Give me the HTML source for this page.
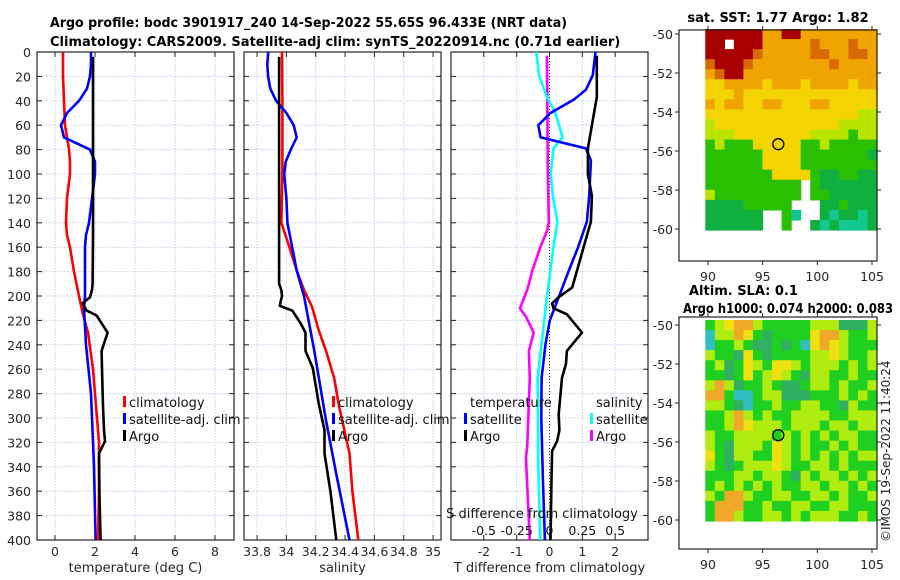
<!DOCTYPE html>
<html><head><meta charset="utf-8"><style>
html,body{margin:0;padding:0;background:#fff;}
svg{display:block;font-family:"DejaVu Sans","Liberation Sans",sans-serif;}
</style></head><body>
<svg id="fig" width="900" height="580" viewBox="0 0 900 580" xmlns="http://www.w3.org/2000/svg">
<text x="50" y="27" font-size="13" font-weight="bold" fill="#000" textLength="517" lengthAdjust="spacingAndGlyphs">Argo profile: bodc 3901917_240 14-Sep-2022 55.65S 96.433E (NRT data)</text>
<text x="50" y="46" font-size="13" font-weight="bold" fill="#000">Climatology: CARS2009. Satellite-adj clim: synTS_20220914.nc (0.71d earlier)</text>
<text x="778" y="22" font-size="13" font-weight="bold" text-anchor="middle">sat. SST: 1.77 Argo: 1.82</text>
<text x="689" y="295" font-size="13" font-weight="bold">Altim. SLA: 0.1</text>
<text x="683" y="313" font-size="13" font-weight="bold" textLength="210" lengthAdjust="spacingAndGlyphs">Argo h1000: 0.074 h2000: 0.083</text>
<text transform="translate(890,542) rotate(-90)" font-size="12" fill="#222">©IMOS 19-Sep-2022 11:40:24</text>
<g id="layer"></g>
</svg>
<script>
// ---------- depth grid and profile data ----------
const depthTicks = [0,20,40,60,80,100,120,140,160,180,200,220,240,260,280,300,320,340,360,380,400];
// Temperature panel
const tClimDepth = [0,20,40,60,80,90,100,120,140,150,160,180,200,215,230,260,290,320,360,400];
const tClimVal   = [0.4,0.4,0.45,0.5,0.7,0.75,0.75,0.6,0.55,0.6,0.75,0.95,1.2,1.4,1.65,1.9,2.05,2.2,2.2,2.15];
const tSatDepth = [0,10,20,30,40,50,60,70,80,90,100,120,140,150,160,200,210,240,280,340,400];
const tSatVal   = [1.8,1.8,1.75,1.6,1.2,0.6,0.3,0.45,1.75,2.0,2.0,1.85,1.7,1.55,1.5,1.5,1.45,1.55,1.8,1.95,2.03];
const tArgoDepth = [4,50,100,150,190,195,201,206,212,216,230,245,260,290,310,319,329,360,400];
const tArgoVal   = [1.9,1.9,1.9,1.9,1.88,1.85,1.75,1.38,1.58,2.08,2.63,2.33,2.35,2.4,2.45,2.5,2.2,2.22,2.28];
const tTicks = [0,2,4,6,8];
// Salinity panel
const sClimDepth = [0,40,100,140,154,179,195,209,228,245,267,291,329,360,400];
const sClimVal   = [33.97,33.973,33.973,33.965,34.005,34.07,34.12,34.175,34.22,34.27,34.325,34.36,34.43,34.45,34.49];
const sSatDepth = [0,10,20,30,40,50,60,70,80,90,100,120,140,179,200,245,302,346,400];
const sSatVal   = [33.877,33.87,33.875,33.89,33.93,34.0,34.05,34.07,34.03,33.995,33.985,34.0,34.007,34.07,34.12,34.19,34.27,34.34,34.43];
const sArgoDepth = [4,100,190,195,200,205,208,212,223,230,245,259,288,310,329,360,400];
const sArgoVal   = [33.95,33.95,33.95,33.965,33.97,33.96,33.955,34.04,34.1,34.13,34.13,34.18,34.22,34.26,34.26,34.3,34.34];
const sTicks = [33.8,34,34.2,34.4,34.6,34.8,35];
const sTickLabels = ['33.8','34','34.2','34.4','34.6','34.8','35'];
// Difference panel
const dTSatDepth = [0,19,31,39,50,60,70,79,89,118,139,160,179,201,220,239,267,300,350,400];
const dTSatVal   = [1.4,1.32,1.11,0.74,0.03,-0.34,-0.27,1.11,1.26,1.21,1.14,0.87,0.59,0.28,0.01,-0.12,-0.24,-0.25,-0.2,-0.14];
const dTArgoDepth = [3,37,60,79,100,118,139,160,179,193,201,206,210,215,230,245,256,267,297,310,319,327,350,400];
const dTArgoVal   = [1.44,1.44,1.29,1.17,1.17,1.29,1.26,1.04,0.84,0.69,0.28,0.08,0.12,0.53,0.99,0.53,0.5,0.38,0.28,0.3,0.23,0.08,0.06,0.03];
const dSSatDepth = [0,19,37,50,70,79,100,118,139,160,201,267,338,400];
const dSSatVal   = [-0.10,-0.08,-0.02,0.045,0.10,0.03,0.01,0.025,0.06,0.03,-0.02,-0.09,-0.085,-0.07];
const dSArgoDepth = [3,37,100,139,146,160,179,195,210,217,230,245,267,324,332,400];
const dSArgoVal   = [-0.02,-0.017,-0.013,-0.005,-0.017,-0.07,-0.13,-0.17,-0.225,-0.18,-0.12,-0.157,-0.15,-0.17,-0.18,-0.15];
const dTTicks = [-2,-1,0,1,2];
const dSTicks = [-0.5,-0.25,0,0.25,0.5];
const dSTickLabels = ['-0.5','-0.25','0','0.25','0.5'];
// Maps
const lonTicks = [90,95,100,105];
const latTicks = [-50,-52,-54,-56,-58,-60];
const argoLon = 96.433, argoLat = -55.65;
const sstGrid = [
"RRRRRROORROOOOOOOO",
"RRWRRROOOOOrOOOrOO",
"RRRRRrOOOOOrrOOrrO",
"rRRRrOOOOOOOOrOOOO",
"OrRROOOOOOOOOOOOOO",
"YYOOOOYOOOYOOOOYOO",
"YYYOYYYYYYYYYYYYYY",
"OYOOYYOOYYYOOYYYYY",
"YYYYYYYYYYYYYYYYLL",
"LYYYYYYYYYYYYYLLLL",
"LLLYYYYYYYYLLLLGLL",
"GLGGGYYYYYGGLGGGGG",
"GGGGGGYYYYGGGGGGGD",
"GGGGGGYYYYGGGGGGGG",
"GGGGGGGYYYYGDDGGDD",
"GGGGGGGGGGWGDDDDDD",
"LGGGGGGGGGWGGDDDDD",
"DDDDGGGGGWWWDDGDDD",
"DDDDDDWWGTWWDTDDTD",
"DDDDDDWWGWWDTDTTTD"];
const slaGrid = [
"glYoolgggggllldddl",
"clloYgdggggYoolggl",
"cgglgddgdgcYoYlggg",
"lggdYgdggggllYlggl",
"gldgYlgYYlglllglgl",
"ggdgYglYlgdllgglgg",
"loldgglgddgllglggl",
"oogccglldddggglglg",
"llgdcgglggllggdlgg",
"gglolglggllllgglll",
"ggloYlllglllgllgll",
"lggllllglglglgllgg",
"lgdlllgYlglgglglgg",
"YgdllggYlglglglgll",
"lgdglllYlggllglggg",
"gggllgllgdlgllglgl",
"glglglglggllgllglg",
"lgoolggllggllglggl",
"gooogglggllggllggg",
"goolggllglglllgglg"];
const sstColors = {R:'#a80000',r:'#d86a00',O:'#f0a400',Y:'#f4d400',L:'#b8e400',G:'#28c000',D:'#10b040',T:'#10c890',W:'#ffffff'};
const slaColors = {g:'#20d020',d:'#30b060',l:'#b0ec10',Y:'#f0e010',o:'#f0a828',c:'#30c0c0'};

const NS='http://www.w3.org/2000/svg';
const layer=document.getElementById('layer');
function mk(tag,attrs,parent){const e=document.createElementNS(NS,tag);for(const k in attrs)e.setAttribute(k,attrs[k]);(parent||layer).appendChild(e);return e;}
const Y0=52,Y1=540;
function yD(d){return Y0+(d/400)*(Y1-Y0);}
function lin(d0,d1,r0,r1){return v=>r0+(v-d0)/(d1-d0)*(r1-r0);}

const grey='#262626';
function panel(name,x0,x1,xs,ticks,labels,xlabel){
  const g=mk('g',{});
  
  
  depthTicks.forEach(d=>{const y=yD(d);const l=mk('line',{x1:x0,x2:x1,y1:y,y2:y,stroke:'#c8cce8','stroke-width':1,'stroke-dasharray':'1.5,1.5'},g);
    });
  ticks.forEach(v=>{const x=xs(v);const l=mk('line',{x1:x,x2:x,y1:Y0,y2:Y1,stroke:'#c8cce8','stroke-width':1,'stroke-dasharray':'1.5,1.5'},g);
    });
  depthTicks.forEach(d=>{const y=yD(d);
    mk('line',{x1:x0,x2:x0+5,y1:y,y2:y,stroke:'#222'},g);
    mk('line',{x1:x1-5,x2:x1,y1:y,y2:y,stroke:'#222'},g);});
  ticks.forEach((v,i)=>{const x=xs(v);
    mk('line',{x1:x,x2:x,y1:Y1,y2:Y1-5,stroke:'#222'},g);
    mk('line',{x1:x,x2:x,y1:Y0,y2:Y0+5,stroke:'#222'},g);
    const t=mk('text',{x:x,y:556,'font-size':12.5,'text-anchor':'middle',fill:grey},g);t.textContent=labels[i];
    });
  const r=mk('rect',{x:x0,y:Y0,width:x1-x0,height:Y1-Y0,fill:'none',stroke:'#222','stroke-width':1.2},g);
  
  if(xlabel){const t=mk('text',{x:(x0+x1)/2,y:572,'font-size':13,'text-anchor':'middle',fill:grey},g);t.textContent=xlabel;
    }
  return g;
}
function series(g,name,xs,depths,vals,color,w){
  const pts=depths.map((d,i)=>xs(vals[i]).toFixed(1)+','+yD(d).toFixed(1)).join(' ');
  const p=mk('polyline',{points:pts,fill:'none',stroke:color,'stroke-width':w||2.6,'stroke-linejoin':'round'},g);
  
  
}
function legendEntry(g,x,y,color,label,name){
  mk('rect',{x:x-5,y:y-6,width:3,height:11,fill:color},g);
  const t=mk('text',{x:x+1,y:y+5,'font-size':13,fill:'#111'},g);t.textContent=label;
  
  
}

depthTicks.forEach(d=>{const t=mk('text',{x:31,y:yD(d)+5,'font-size':12.5,'text-anchor':'end',fill:grey});t.textContent=d;
  });

const xT=lin(-0.9,8.95,37,234);
const g1=panel('temperature',37,234,xT,tTicks,tTicks.map(String),'temperature (deg C)');
series(g1,'temp-climatology-line',xT,tClimDepth,tClimVal,'#ff0000');
series(g1,'temp-satellite-adj-line',xT,tSatDepth,tSatVal,'#0000ff');
series(g1,'temp-argo-line',xT,tArgoDepth,tArgoVal,'#000000');
legendEntry(g1,128,402,'#ff0000','climatology','legend-climatology');
legendEntry(g1,128,419,'#0000ff','satellite-adj. clim','legend-satellite-adj');
legendEntry(g1,128,436,'#000000','Argo','legend-argo');

const xS=lin(33.711,35.054,244,441);
const g2=panel('salinity',244,441,xS,sTicks,sTickLabels,'salinity');
series(g2,'sal-climatology-line',xS,sClimDepth,sClimVal,'#ff0000');
series(g2,'sal-satellite-adj-line',xS,sSatDepth,sSatVal,'#0000ff');
series(g2,'sal-argo-line',xS,sArgoDepth,sArgoVal,'#000000');
legendEntry(g2,337,402,'#ff0000','climatology','legend-climatology');
legendEntry(g2,337,419,'#0000ff','satellite-adj. clim','legend-satellite-adj');
legendEntry(g2,337,436,'#000000','Argo','legend-argo');

const xDT=lin(-3,3,451,648);
const xDS=lin(-0.75,0.75,451,648);
const g3=panel('difference',451,648,xDT,dTTicks,dTTicks.map(String),'T difference from climatology');
const zl=mk('line',{x1:xDT(0),x2:xDT(0),y1:Y0,y2:Y1,stroke:'#333','stroke-width':1,'stroke-dasharray':'1,2'},g3);

series(g3,'dS-argo-line',xDS,dSArgoDepth,dSArgoVal,'#ff00ff');
series(g3,'dS-satellite-line',xDS,dSSatDepth,dSSatVal,'#00ffff');
series(g3,'dT-satellite-line',xDT,dTSatDepth,dTSatVal,'#0000ff');
series(g3,'dT-argo-line',xDT,dTArgoDepth,dTArgoVal,'#000000');
dSTicks.forEach((v,i)=>{const t=mk('text',{x:xDS(v),y:535,'font-size':12.5,'text-anchor':'middle',fill:'#111'},g3);t.textContent=dSTickLabels[i];
  });
{const t=mk('text',{x:542,y:518,'font-size':13,'text-anchor':'middle',fill:'#111'},g3);t.textContent='S difference from climatology';
  }
{const t=mk('text',{x:470,y:407,'font-size':13,fill:'#111'},g3);t.textContent='temperature';
  }
{const t=mk('text',{x:596,y:407,'font-size':13,fill:'#111'},g3);t.textContent='salinity';
  }
legendEntry(g3,469,419,'#0000ff','satellite','legend-t-satellite');
legendEntry(g3,469,436,'#000000','Argo','legend-t-argo');
legendEntry(g3,595,419,'#00ffff','satellite','legend-s-satellite');
legendEntry(g3,595,436,'#ff00ff','Argo','legend-s-argo');

function map(name,fy0,fy1,dy0,dy1,lat50y,lat60y,grid,colors,labelY){
  const g=mk('g',{});
  
  
  const lonX=lin(90,105,708,872);
  const latY=lin(-50,-60,lat50y,lat60y);
  const dx0=lonX(89.75),dx1=877;
  const rows=grid.length,cols=grid[0].length;
  const cw=(dx1-dx0)/cols,ch=(dy1-dy0)/rows;
  grid.forEach((row,r)=>{for(let c=0;c<cols;c++){const col=colors[row[c]]||'#20d020';
    if(col==='#ffffff')continue;
    const cell=mk('rect',{x:(dx0+c*cw).toFixed(2),y:(dy0+r*ch).toFixed(2),width:(cw+0.6).toFixed(2),height:(ch+0.6).toFixed(2),fill:col},g);
    }});
  const fr=mk('rect',{x:679,y:fy0,width:198,height:fy1-fy0,fill:'none',stroke:'#222','stroke-width':1.2},g);
  
  lonTicks.forEach(v=>{const x=lonX(v);
    mk('line',{x1:x,x2:x,y1:fy1,y2:fy1+4,stroke:'#222'},g);
    mk('line',{x1:x,x2:x,y1:fy0,y2:fy0-4,stroke:'#222'},g);
    const t=mk('text',{x:x,y:labelY,'font-size':12.5,'text-anchor':'middle',fill:grey},g);t.textContent=v;
    });
  latTicks.forEach(v=>{const y=latY(v);
    mk('line',{x1:679,x2:675,y1:y,y2:y,stroke:'#222'},g);
    mk('line',{x1:877,x2:881,y1:y,y2:y,stroke:'#222'},g);
    const t=mk('text',{x:673,y:y+5,'font-size':12.5,'text-anchor':'end',fill:grey},g);t.textContent=v;
    });
  const c=mk('circle',{cx:lonX(argoLon),cy:latY(argoLat),r:5.5,fill:'none',stroke:'#000','stroke-width':1.3},g);
  
}
map('sst-map',30,261,29,230,34,229,sstGrid,sstColors,281);
map('sla-map',317,549,320,521,325,520,slaGrid,slaColors,569);
</script>
</body></html>
